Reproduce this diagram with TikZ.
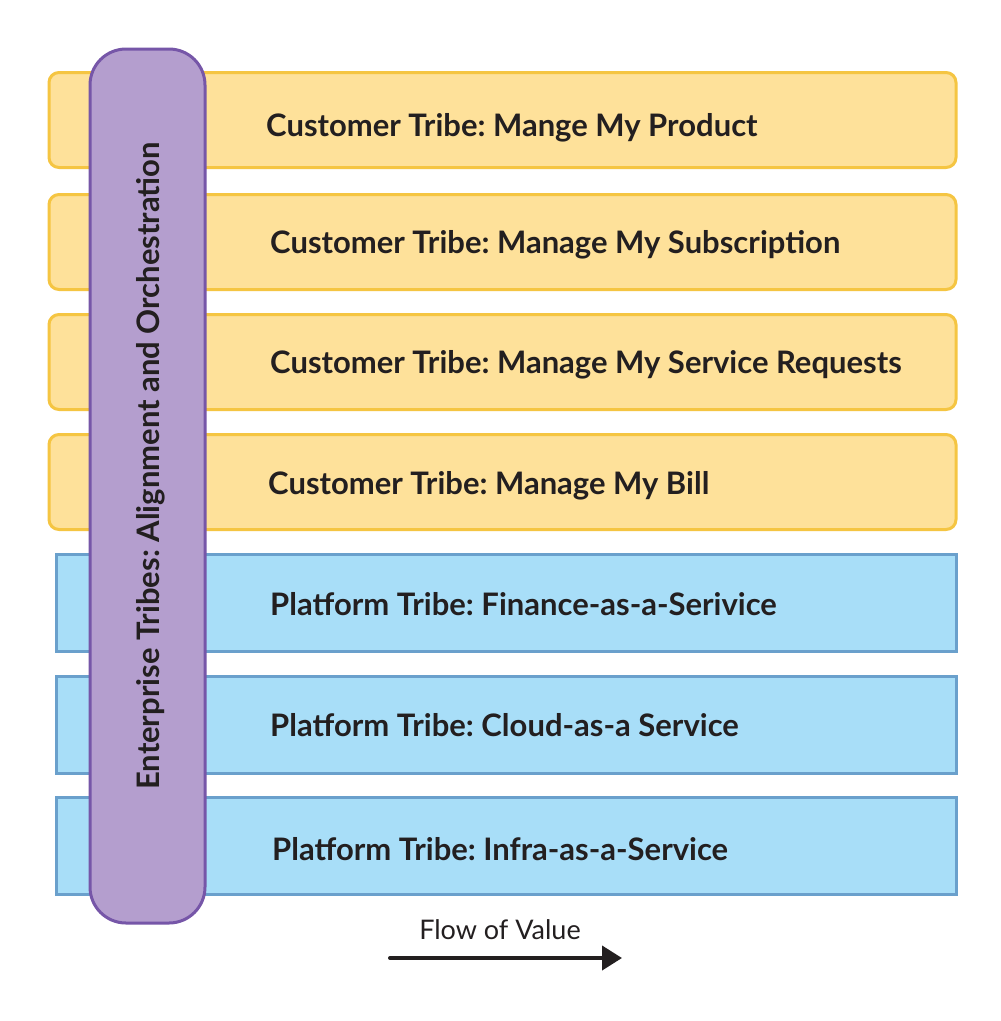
\documentclass[tikz,border=0pt]{standalone}
\usepackage{fontspec}
\setmainfont{Lato}
\frenchspacing
\usetikzlibrary{arrows.meta}
\definecolor{ysfill}{HTML}{FEE19A}
\definecolor{ysline}{HTML}{F5C542}
\definecolor{bsfill}{HTML}{A8DEF8}
\definecolor{bsline}{HTML}{6AA0CC}
\definecolor{pfill}{HTML}{B49ECE}
\definecolor{pline}{HTML}{7656A8}
\definecolor{ink}{HTML}{231F20}
\begin{document}
\begin{tikzpicture}[x=1pt,y=-1pt,
  custbox/.style={draw=ysline, fill=ysfill, line width=3pt, rounded corners=10pt,
    minimum width=907pt, minimum height=95pt, inner sep=0pt},
  platbox/.style={draw=bsline, fill=bsfill, line width=3pt,
    minimum width=900pt, minimum height=97pt, inner sep=0pt},
  tribetext/.style={anchor=west, inner sep=0pt, text=ink, font=\fontsize{31}{34}\selectfont\bfseries,
    text height=22pt, text depth=0pt},
  pill/.style={draw=pline, fill=pfill, line width=3pt, rounded corners=36pt,
    minimum width=115pt, minimum height=874pt, inner sep=0pt},
]
\useasboundingbox (0,0) rectangle (1001,1021);
\fill[white] (0,0) rectangle (1001,1021);

% customer tribes
\node[custbox] (c1) at (502.5,120) {};
\node[custbox] (c2) at (502.5,242) {};
\node[custbox] (c3) at (502.5,362) {};
\node[custbox] (c4) at (502.5,482) {};
% platform tribes
\node[platbox] (p1) at (506,603) {};
\node[platbox] (p2) at (506,725) {};
\node[platbox] (p3) at (506,846) {};

\node[tribetext] (tc1) at (266,125) {Customer Tribe: Mange My Product};
\node[tribetext] (tc2) at (270,242) {Customer Tribe: Manage My Subscription};
\node[tribetext] (tc3) at (270,362) {Customer Tribe: Manage My Service Requests};
\node[tribetext] (tc4) at (268,483) {Customer Tribe: Manage My Bill};
\node[tribetext] (tp1) at (270,604) {Platform Tribe: Finance-as-a-Serivice};
\node[tribetext] (tp2) at (270,725) {Platform Tribe: Cloud-as-a Service};
\node[tribetext] (tp3) at (272,849) {Platform Tribe: Infra-as-a-Service};

% enterprise tribe band across all tribes
\node[pill] (ent) at (147.5,486) {};
\node[tribetext, anchor=center, rotate=90] (tent) at (148,466)
  {Enterprise Tribes: Alignment and Orchestration};

% flow of value
\node[inner sep=0pt, text=ink, font=\fontsize{27}{30}\selectfont] (fv) at (500,930) {Flow of Value};
\coordinate (fa) at (390,958);
\coordinate (fb) at (622,958);
\draw[ink, line width=4pt, line cap=round, -{Triangle[length=20pt,width=24pt]}] (fa) -- (fb);
\end{tikzpicture}
\end{document}
